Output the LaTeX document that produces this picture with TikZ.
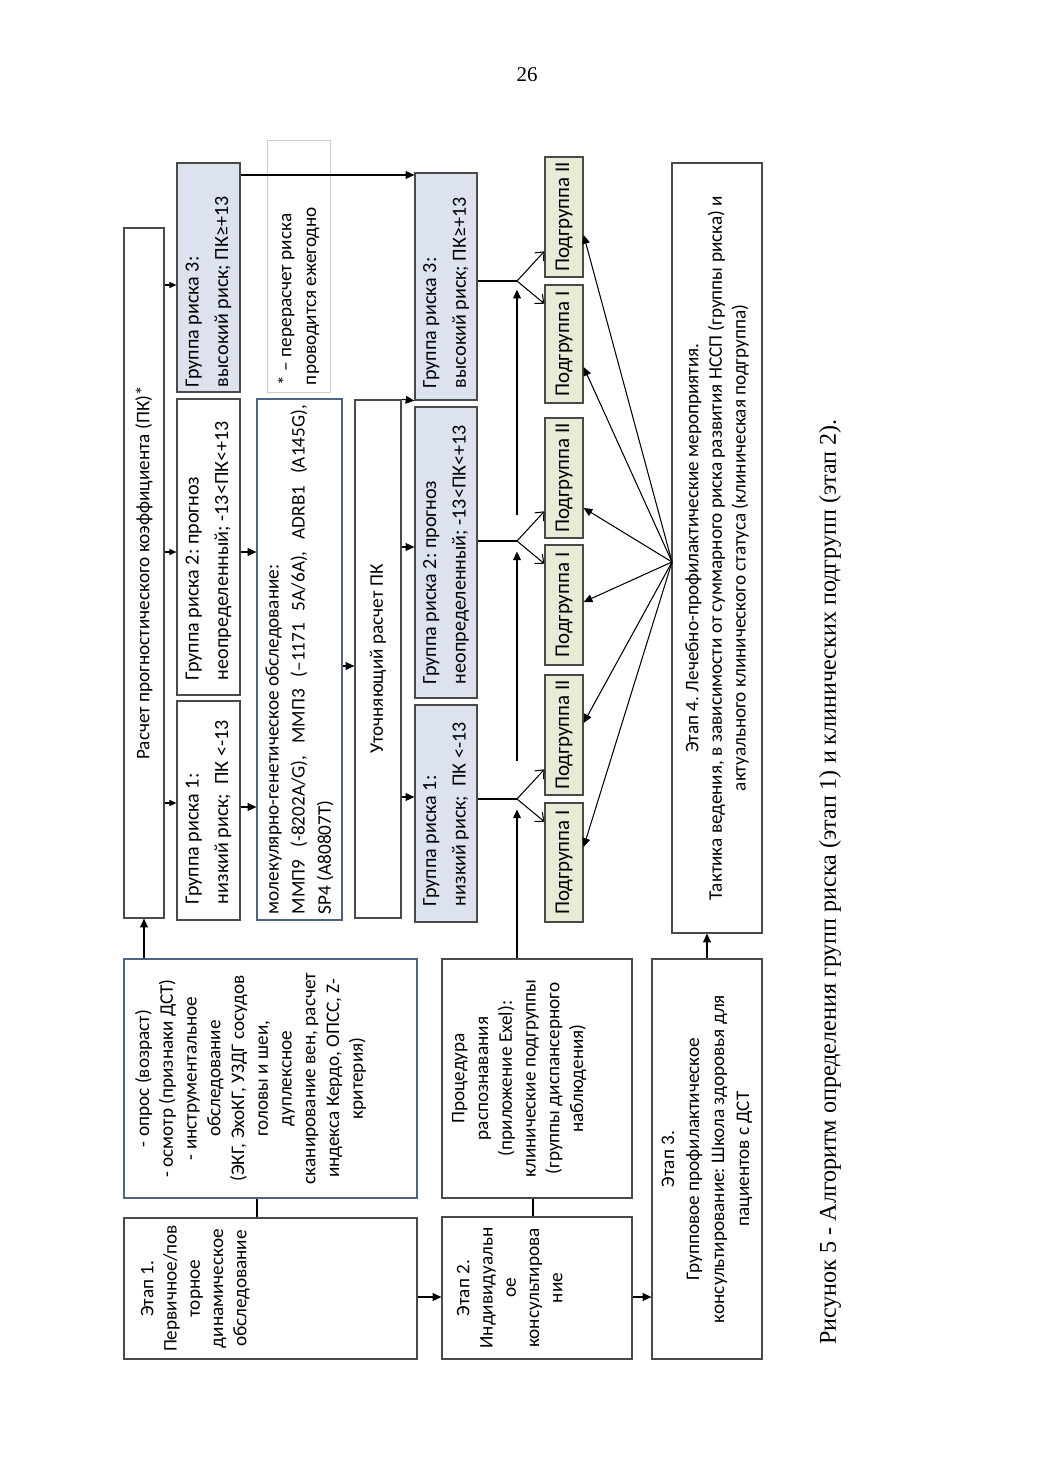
\documentclass[tikz,border=0pt]{standalone}
\usepackage{fontspec}
\setmainfont{Carlito}
\newfontfamily\capfont{Liberation Serif}
\usetikzlibrary{arrows.meta}
\frenchspacing
\newlength\px \setlength\px{0.5725pt}
\definecolor{bfill}{HTML}{DCE3EE}
\definecolor{gfill}{HTML}{E6ECD6}
\definecolor{bdr}{HTML}{4A4A4A}
\definecolor{bbdr}{HTML}{4F6484}
\definecolor{nbdr}{HTML}{CDCDCD}
\newcommand\gfont{\fontsize{11.5}{17}\selectfont}
\newcommand\hf{\hspace*{\fill}}
\newcommand\bx[7]{%
  \pgfmathsetmacro\bxcx{(#2+#4)/2}%
  \pgfmathsetmacro\bxcy{(#3+#5)/2}%
  \pgfmathsetmacro\bxw{#5-#3}%
  \pgfmathsetmacro\bxh{#4-#2}%
  \node[box,minimum width=\bxw\px,minimum height=\bxh\px,#6] (#1) at (\bxcx,\bxcy) {#7};}
\tikzset{
  box/.style={draw=bdr, line width=0.7pt, rotate=90, inner sep=0pt, align=center,
    font=\fontsize{11}{13.3}\selectfont},
  grp/.style={align=flush left, font=\gfont},
  sub/.style={fill=gfill, font=\fontsize{12}{14}\selectfont},
  conn/.style={line width=0.6pt, draw=black},
  arr/.style={conn, -{Triangle[length=5pt,width=4.5pt]}},
  sarr/.style={conn, -{Triangle[length=4pt,width=3.5pt]}},
  farr/.style={conn, -{Straight Barb[length=4pt,width=7pt]}},
}
\begin{document}
\begin{tikzpicture}[x=0.5725pt, y=-0.5725pt]
\useasboundingbox (0,0) rectangle (1040,1471);
\fill[white] (0,0) rectangle (1040,1471);

% top row (page left column)
\bx{calc}{124}{228}{164}{918}{}{Расчет прогностического коэффициента (ПК)*}
\bx{g1a}{177}{701}{240}{920}{grp, text width=187\px}{Группа~риска~1:\\низкий~риск;~~ПК~<-13}
\bx{g2a}{177}{399}{240}{695}{grp, text width=266\px}{Группа~риска~2:~прогноз\\неопределенный;~-13<ПК<+13}
\bx{g3a}{177}{163}{240}{392}{grp, fill=bfill, text width=219\px}{Группа~риска~3:\\высокий~риск;~ПК≥+13}
\bx{mol}{257}{399}{342}{920}{draw=bbdr, text width=509\px, align=flush left, font=\fontsize{11}{15}\selectfont}{молекулярно-генетическое обследование:\\ММП9\hf(-8202A/G),\hf ММП3\hf(–1171\hf 5A/6A),\hf ADRB1\hf(A145G),\\SP4 (A80807T)}
\bx{note}{267}{140}{330}{392}{draw=nbdr, line width=0.5pt, text width=238\px, align=flush left, font=\fontsize{11}{14.3}\selectfont}{*~–~перерасчет~риска\\проводится~ежегодно}
\bx{refine}{355}{400}{401}{918}{}{Уточняющий расчет ПК}
\bx{g1b}{415}{705}{477}{922}{grp, fill=bfill, text width=185\px}{Группа~риска~1:\\низкий~риск;~~ПК~<-13}
\bx{g2b}{415}{407}{477}{698}{grp, fill=bfill, text width=263\px}{Группа~риска~2:~прогноз\\неопределенный;~-13<ПК<+13}
\bx{g3b}{415}{173}{477}{400}{grp, fill=bfill, text width=203\px}{Группа~риска~3:\\высокий~риск;~ПК≥+13}

% subgroups
\bx{s3b}{545}{157}{583}{277}{sub}{Подгруппа II}
\bx{s3a}{545}{285}{583}{403}{sub}{Подгруппа I}
\bx{s2b}{545}{418}{583}{538}{sub}{Подгруппа II}
\bx{s2a}{545}{545}{583}{665}{sub}{Подгруппа I}
\bx{s1b}{545}{675}{583}{795}{sub}{Подгруппа II}
\bx{s1a}{545}{803}{583}{922}{sub}{Подгруппа I}

\bx{st4}{672}{163}{762}{933}{font=\fontsize{11}{13.5}\selectfont}{Этап 4. Лечебно-профилактические мероприятия.\\Тактика ведения, в зависимости от суммарного риска развития НССП (группы риска) и\\актуального клинического статуса (клиническая подгруппа)}

% stages (page bottom)
\bx{st1}{124}{1218}{417}{1359}{}{\parbox[c][259\px][t]{137\px}{\centering Этап 1.\\Первичное/пов\\торное\\динамическое\\обследование}}
\bx{info}{124}{959}{417}{1198}{draw=bbdr, font=\fontsize{11}{13.6}\selectfont}{\parbox[c][271\px][t]{235\px}{\centering - опрос (возраст)\\- осмотр (признаки ДСТ)\\- инструментальное\\обследование\\(ЭКГ, ЭхоКГ, УЗДГ сосудов\\головы и шеи,\\дуплексное\\сканирование вен, расчет\\индекса Кердо, ОПСС, Z-\\критерия)}}
\bx{st2}{442}{1217}{632}{1359}{}{\parbox[c][160\px][t]{138\px}{\centering Этап 2.\\Индивидуальн\\ое\\консультирова\\ние}}
\bx{proc}{442}{959}{632}{1198}{font=\fontsize{11}{13.6}\selectfont}{\parbox[c][170\px][t]{235\px}{\centering Процедура\\распознавания\\(приложение Exel):\\клинические подгруппы\\(группы диспансерного\\наблюдения)}}
\bx{st3}{652}{959}{762}{1359}{font=\fontsize{11}{14.3}\selectfont}{Этап 3.\\Групповое профилактическое\\консультирование: Школа здоровья для\\пациентов с ДСТ}

% caption and page number
\node[rotate=90, font=\capfont\fontsize{13.8}{16}\selectfont, inner sep=0pt] (cap) at (830,882) {Рисунок 5 - Алгоритм определения групп риска (этап 1) и клинических подгрупп (этап 2).};
\node[font=\capfont\fontsize{12}{14}\selectfont, inner sep=0pt] (pnum) at (527,75) {26};

% helper coordinates
\coordinate (y803) at (0,803);
\coordinate (y552) at (0,552);
\coordinate (y285) at (0,285);
\coordinate (y807) at (0,807);
\coordinate (y175) at (0,175);
\coordinate (y666) at (0,666);
\coordinate (y797) at (0,797);
\coordinate (y547) at (0,547);
\coordinate (y1297) at (0,1297);
\coordinate (x257) at (257,0);
\coordinate (x533) at (533,0);
\coordinate (f1) at (517,799);
\coordinate (f2) at (517,541);
\coordinate (f3) at (517,281);
\coordinate (hub) at (672,562);

% connectors
\draw[arr] (info.east -| calc.west) -- (calc.west);
\draw[sarr] (calc.south |- y803) -- (g1a.north |- y803);
\draw[sarr] (calc.south |- y552) -- (g2a.north |- y552);
\draw[sarr] (calc.south |- y285) -- (g3a.north |- y285);
\draw[arr] (g1a.south |- y807) -- (mol.north |- y807);
\draw[arr] (g2a.south |- y552) -- (mol.north |- y552);
\draw[arr] (g3a.south |- y175) -- (g3b.north |- y175);
\draw[arr] (mol.south |- y666) -- (refine.north |- y666);
\draw[arr] (refine.south |- y797) -- (g1b.north |- y797);
\draw[arr] (refine.south |- y547) -- (g2b.north |- y547);
\draw[arr] (refine.south east) -- (g3b.north west);

% forks
\draw[conn] (g1b.south |- f1) -- (f1);
\draw[farr] (f1) -- ([yshift=17pt]s1b.north |- f1);
\draw[farr] (f1) -- ([yshift=-13pt]s1a.north |- f1);
\draw[conn] (g2b.south |- f2) -- (f2);
\draw[farr] (f2) -- ([yshift=17pt]s2b.north |- f2);
\draw[farr] (f2) -- ([yshift=-13pt]s2a.north |- f2);
\draw[conn] (g3b.south |- f3) -- (f3);
\draw[farr] (f3) -- ([yshift=17pt]s3b.north |- f3);
\draw[farr] (f3) -- ([yshift=-13pt]s3a.north |- f3);

% vertical feed from procedure
\draw[arr] (proc.east -| f1) -- ([yshift=-6pt]f1);
\draw[arr] ([yshift=22pt]f1) -- ([yshift=-6pt]f2);
\draw[arr] ([yshift=15pt]f2) -- ([yshift=-5pt]f3);

% stage 4 fan
\coordinate (t3b) at (0,235);
\coordinate (t3a) at (0,367);
\coordinate (t2b) at (0,508);
\coordinate (t2a) at (0,602);
\coordinate (t1b) at (0,723);
\coordinate (t1a) at (0,847);
\draw[arr] (hub) -- (s3b.south |- t3b);
\draw[arr] (hub) -- (s3a.south |- t3a);
\draw[arr] (hub) -- (s2b.south |- t2b);
\draw[arr] (hub) -- (s2a.south |- t2a);
\draw[arr] (hub) -- (s1b.south |- t1b);
\draw[arr] (hub) -- (s1a.south |- t1a);

% stages
\draw[conn] (st1.east -| x257) -- (info.west -| x257);
\draw[conn] (st2.east -| x533) -- (proc.west -| x533);
\draw[arr] (st1.south |- y1297) -- (st2.north |- y1297);
\draw[arr] (st2.south |- y1297) -- (st3.north |- y1297);
\draw[arr] (st3.east) -- (st4.west -| st3.east);
\end{tikzpicture}
\end{document}
